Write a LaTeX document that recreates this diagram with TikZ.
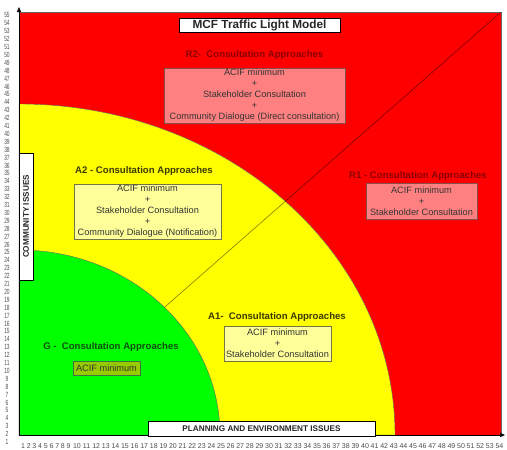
\documentclass[tikz,border=0pt]{standalone}
\usepackage{fontspec}
\setmainfont{Liberation Sans}
\usetikzlibrary{arrows.meta}
\definecolor{zred}{HTML}{FF0000}
\definecolor{zyellow}{HTML}{FFFF00}
\definecolor{zgreen}{HTML}{00FF00}
\definecolor{rbox}{HTML}{FF8080}
\definecolor{abox}{HTML}{FFFF99}
\definecolor{gbox}{HTML}{99CC00}
\definecolor{rhead}{HTML}{8B0000}
\definecolor{ahead}{HTML}{3A3A00}
\definecolor{ghead}{HTML}{0F4F0F}
\definecolor{txt}{HTML}{333333}
\begin{document}
\begin{tikzpicture}[x=1pt,y=-1pt,
  zone/.style={draw=black!60, line width=0.4pt},
  headtxt/.style={font=\bfseries\fontsize{9.6}{11}\selectfont, inner sep=0pt},
  infobox/.style={draw, line width=0.6pt, align=center, inner sep=0pt,
    text=txt, font=\fontsize{9.2}{11}\selectfont},
  labelbox/.style={draw=black, fill=white, line width=0.8pt, inner sep=0pt,
    font=\bfseries\fontsize{8.2}{10}\selectfont, text=black!85},
  numlbl/.style={inner sep=0pt, text=black!70, font=\fontsize{7}{7}\selectfont},
  axis/.style={line width=0.8pt, -{Triangle[length=5pt,width=4pt]}}
]
\useasboundingbox (0,0) rectangle (507,450);
\coordinate (O) at (19,435);
\coordinate (TR) at (501,12);
\coordinate (ytip) at (19,7);
\coordinate (xtip) at (505,435);

% zones
\fill[zred, zone] (19,12) rectangle (501,435);
\fill[zyellow, zone] (O) -- (19,104) arc[start angle=90, end angle=0, x radius=376pt, y radius=331pt] -- cycle;
\draw[black, opacity=0.5, line width=0.6pt] (O) -- (TR);
\fill[zgreen, zone] (O) -- (19,250) arc[start angle=90, end angle=0, x radius=201pt, y radius=185pt] -- cycle;

% axes
\draw[axis] (O) -- (ytip);
\draw[axis] (O) -- (xtip);

% title and axis labels
\node[labelbox, minimum width=161pt, minimum height=14pt,
  font=\bfseries\fontsize{11.8}{14}\selectfont] (title) at (259.5,25) {MCF Traffic Light Model};
\node[labelbox, rotate=90, minimum width=127pt, minimum height=14pt] (community) at (26,216.5) {COMMUNITY ISSUES};
\node[labelbox, minimum width=227pt, minimum height=15pt] (planning) at (261.5,428.5) {PLANNING AND ENVIRONMENT ISSUES};

% R2
\node[headtxt, text=rhead] (r2h) at (254.5,55) {R2-\ \ Consultation Approaches};
\node[infobox, fill=rbox, draw=rhead!60!black!70, minimum width=181pt, minimum height=55pt] (r2b) at (254.5,95.5)
  {ACIF minimum\\+\\Stakeholder Consultation\\+\\Community Dialogue (Direct consultation)};

% R1
\node[headtxt, text=rhead] (r1h) at (418,176) {R1 - Consultation Approaches};
\node[infobox, fill=rbox, draw=rhead!60!black!70, minimum width=111pt, minimum height=36pt] (r1b) at (421.5,201)
  {ACIF minimum\\+\\Stakeholder Consultation};

% A2
\node[headtxt, text=ahead] (a2h) at (144,171) {A2 - Consultation Approaches};
\node[infobox, fill=abox, draw=ahead!70, minimum width=147pt, minimum height=55pt] (a2b) at (147.5,211.5)
  {ACIF minimum\\+\\Stakeholder Consultation\\+\\Community Dialogue (Notification)};

% A1
\node[headtxt, text=ahead] (a1h) at (277,317) {A1-\ \ Consultation Approaches};
\node[infobox, fill=abox, draw=ahead!70, minimum width=107pt, minimum height=35pt] (a1b) at (277.5,343.5)
  {ACIF minimum\\+\\Stakeholder Consultation};

% G
\node[headtxt, text=ghead] (gh) at (111,347) {G -\ \ Consultation Approaches};
\node[infobox, fill=gbox, draw=ghead!80, minimum width=67pt, minimum height=14pt] (gb) at (106.5,368)
  {ACIF minimum};

% scales
\foreach \i in {1,...,54} {
  \pgfmathsetmacro\xx{\i<10 ? 23+(\i-1)*5.7 : 77+(\i-10)*9.6}
  \node[numlbl] (bx\i) at (\xx,446) {\i};
}
\foreach \i in {1,...,55} {
  \pgfmathsetmacro\yy{442-(\i-1)*7.9}
  \node[numlbl, font=\fontsize{7.5}{8}\selectfont, xscale=0.65] (ly\i) at (7,\yy) {\i};
}
\end{tikzpicture}
\end{document}
